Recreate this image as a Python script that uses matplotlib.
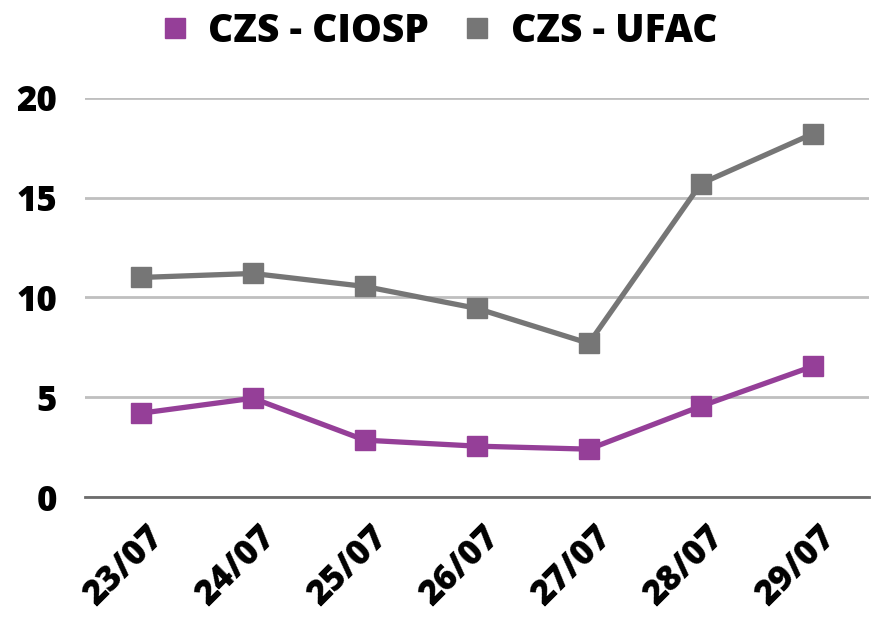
import matplotlib.pyplot as plt
import matplotlib.transforms as mtransforms

dates = ["23/07", "24/07", "25/07", "26/07", "27/07", "28/07", "29/07"]
ciosp = [4.2, 4.95, 2.85, 2.55, 2.4, 4.55, 6.55]
ufac = [11.0, 11.2, 10.55, 9.45, 7.7, 15.7, 18.2]

purple = "#953f98"
gray = "#767676"

plt.rcParams["font.family"] = ["Open Sans", "DejaVu Sans"]

fig = plt.figure(figsize=(8.75, 6.19), dpi=100)
ax = fig.add_axes([0.097, 0.197, 0.896, 0.645])

x = list(range(len(dates)))
ax.plot(x, ciosp, color=purple, lw=3.8, marker="s", ms=14, clip_on=False,
        zorder=3, label="CZS - CIOSP")
ax.plot(x, ufac, color=gray, lw=3.8, marker="s", ms=14, clip_on=False,
        zorder=3, label="CZS - UFAC")

ax.set_xlim(-0.5, 6.5)
ax.set_ylim(0, 20)
ax.set_yticks([0, 5, 10, 15, 20])
ax.grid(axis="y", color="#bfbfbf", lw=2)
ax.set_axisbelow(True)
for side in ["top", "right", "left"]:
    ax.spines[side].set_visible(False)
ax.spines["bottom"].set_color("#6d6d6d")
ax.spines["bottom"].set_linewidth(2)
ax.tick_params(length=0)

ax.set_xticks(x)
ax.set_xticklabels(dates, rotation=45, ha="right", va="top",
                   rotation_mode="anchor", fontsize=25, fontweight="heavy")
shift = mtransforms.ScaledTranslation(0.05, -0.17, fig.dpi_scale_trans)
for lab in ax.get_xticklabels():
    lab.set_transform(lab.get_transform() + shift)
for lab in ax.get_yticklabels():
    lab.set_fontsize(25)
    lab.set_fontweight("heavy")
ax.tick_params(axis="y", pad=20)

leg = ax.legend(loc="lower center", bbox_to_anchor=(0.452, 1.03), ncol=2,
                frameon=False, handlelength=0.7, handletextpad=0.5,
                columnspacing=0.9,
                prop={"size": 28, "weight": "heavy"})
for h in leg.legend_handles:
    h.set_linestyle("none")
    h.set_markersize(15)

fig.savefig("out.png", dpi=100)
